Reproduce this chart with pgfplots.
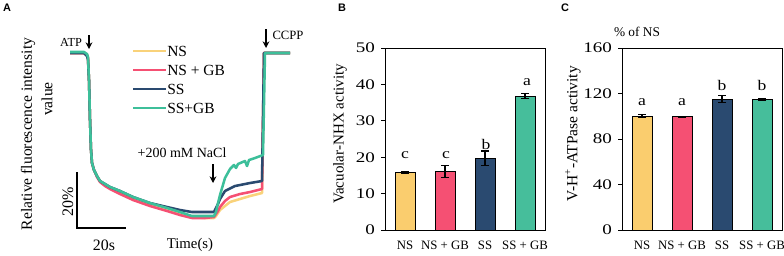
\documentclass[border=0pt]{standalone}
\usepackage{pgfplots}
\pgfplotsset{compat=1.18}
\usepackage{fontspec}
\setmainfont{Liberation Serif}
\newfontfamily\panelfont{Liberation Sans}
\usetikzlibrary{arrows.meta}
\definecolor{nsc}{HTML}{FACD6E}
\definecolor{nsgbc}{HTML}{F55073}
\definecolor{ssc}{HTML}{2A4A70}
\definecolor{ssgbc}{HTML}{46BE9B}
\definecolor{nsl}{HTML}{F9D27A}
\definecolor{ssgbl}{HTML}{3DBF9A}

\pgfplotstableread{
x y
70 53
84 53
87 55
88 58
89 80
90 120
91 150
92 163
94 170
97 176
100 181
105 185
110 188
120 193
133 199
150 205
167 210
180 214
192 217
205 218
214 218
216 216
218 213
220 210
225 206
230 202
240 199
250 196
262 193
264 53
290 53
}\tNS
\pgfplotstableread{
x y
70 53
84 53
87 55
88 58
89 80
90 120
91 150
92 163
94 170
97 177
100 182
105 186
110 189
120 194
133 200
150 206
167 211
180 215
192 218
205 218
214 217
216 214
218 211
220 207
225 201
230 197
240 194
250 192
262 189
264 53
290 53
}\tNSGB
\pgfplotstableread{
x y
70 53
84 53
87 56
88 60
89 80
90 120
91 150
92 163
94 170
97 176
100 181
105 184
110 187
120 191
133 197
150 203
167 207
180 210
192 212
205 212
214 212
216 208
218 204
220 199
225 191
235 186
250 183
262 181
264 53
290 53
}\tSS
\pgfplotstableread{
x y
70 52
84 52
87 54
88 57
89 80
90 120
91 150
92 163
94 170
97 176
100 181
105 184
110 187
120 191
133 197
150 203
167 208
180 212
192 216
205 216
214 216
216 212
218 203
220 195
225 178
230 169
234 165
236 168
238 164
245 161
247 166
249 160
255 158
263 155
265 53
290 53
}\tSSGB

\pgfplotsset{
  barax/.style={
    scale only axis,
    width=120pt, height=136.5pt,
    xmin=-0.5, xmax=3.5, ymin=0,
    xtick={0,1,2,3},
    xticklabels={NS,NS + GB,SS,SS + GB},
    x tick style={draw=none},
    tick align=outside,
    major tick length=3pt,
    ytick pos=left,
    axis line style={line width=0.75pt},
    y tick style={line width=0.75pt, black},
    /pgf/number format/assume math mode=true,
    yticklabel={\scalebox{1.3}[1]{\pgfmathprintnumber{\tick}}},
    yticklabel style={font=\fontsize{11}{12}\selectfont, xshift=-1pt},
    xticklabel style={font=\fontsize{9.6}{11}\selectfont, yshift=-2pt},
    clip=false,
  },
  mybar/.style={ybar, bar width=15pt, bar shift=0pt, draw=black, line width=0.75pt, fill=#1,
    error bars/.cd, y dir=both, y explicit,
    error bar style={line width=0.8pt, black},
    error mark options={rotate=90, mark size=3pt, line width=0.8pt, black}},
}

\begin{document}
\begin{tikzpicture}
% ---------------- Panel A
\begin{axis}[at={(0pt,0pt)}, anchor=south west, scale only axis,
  width=225pt, height=191.25pt, xmin=0, xmax=300, ymin=0, ymax=255,
  y dir=reverse, hide axis, clip=false]
\addplot[nsl, line width=1.9pt, line join=round] table {\tNS};
\addplot[nsgbc, line width=1.9pt, line join=round] table {\tNSGB};
\addplot[ssc, line width=1.9pt, line join=round] table {\tSS};
\addplot[ssgbl, line width=1.9pt, line join=round] table {\tSSGB};
\end{axis}

% ---------------- Panel B
\begin{axis}[barax, at={(288.75pt,18.75pt)}, anchor=south west,
  ymax=50, ytick={0,10,20,30,40,50}]
\addplot[mybar=nsc] coordinates {(0,15.8) +- (0,0.3)};
\addplot[mybar=nsgbc] coordinates {(1,16.0) +- (0,1.6)};
\addplot[mybar=ssc] coordinates {(2,19.7) +- (0,2.0)};
\addplot[mybar=ssgbc] coordinates {(3,36.8) +- (0,0.6)};
\end{axis}

% ---------------- Panel C
\begin{axis}[barax, at={(466.5pt,18.75pt)}, anchor=south west,
  ymax=160, ytick={0,40,80,120,160}]
\addplot[mybar=nsc] coordinates {(0,100) +- (0,1.2)};
\addplot[mybar=nsgbc] coordinates {(1,99.5) +- (0,0.6)};
\addplot[mybar=ssc] coordinates {(2,115) +- (0,3.0)};
\addplot[mybar=ssgbc] coordinates {(3,114.8) +- (0,0.6)};
\end{axis}

% ---------------- Annotations (pixel coordinates, origin top-left)
\begin{scope}[x=0.75pt, y=-0.75pt, yshift=191.25pt]
  % panel letters
  \node[font=\panelfont\bfseries\fontsize{8.2}{9}\selectfont] at (7,8) {A};
  \node[font=\panelfont\bfseries\fontsize{8.2}{9}\selectfont] at (342,8) {B};
  \node[font=\panelfont\bfseries\fontsize{8.2}{9}\selectfont] at (565,8) {C};
  % panel A texts
  \node[rotate=90, font=\fontsize{11.7}{13}\selectfont] at (28,134) {Relative fluorescence intensity};
  \node[rotate=90, font=\fontsize{11.7}{13}\selectfont] at (47,99) {value};
  \node[font=\fontsize{9.2}{11}\selectfont] at (71,42) {ATP};
  \draw[line width=1.1pt, -{Stealth[length=5pt,width=5pt]}] (89,35) -- (89,49);
  \node[font=\fontsize{9.5}{11}\selectfont] at (288,35) {CCPP};
  \draw[line width=1.1pt, -{Stealth[length=5pt,width=5pt]}] (266,29) -- (266,48);
  \node[font=\fontsize{10.5}{12}\selectfont] at (182,153) {+200 mM NaCl};
  \draw[line width=1.1pt, -{Stealth[length=5pt,width=5pt]}] (213,164) -- (213,183);
  % scale bar
  \draw[line width=0.9pt] (77,172) -- (77,228) -- (126,228);
  \node[rotate=90, font=\fontsize{12}{13}\selectfont] at (68,202) {20\%};
  \node[font=\fontsize{11.9}{13}\selectfont] at (104,245) {20s};
  \node[font=\fontsize{11.1}{13}\selectfont] at (190,245) {Time(s)};
  % legend
  \foreach \c/\yy/\t in {nsl/51/NS, nsgbc/70/NS + GB, ssc/89/SS, ssgbl/108/SS+GB}{
    \draw[\c, line width=1.9pt] (133,\yy) -- (166,\yy);
    \node[anchor=west, inner sep=0pt, font=\fontsize{11.6}{13}\selectfont] at (167,\yy) {\t};
  }
  % panel B texts
  \node[rotate=90, font=\fontsize{11.3}{13}\selectfont] at (340,134) {Vacuolar-NHX activity};
  \foreach \xx/\yy/\t in {405/155/c, 446/155/c, 486/144/b, 527/82/a}{
    \node[font=\fontsize{11}{12}\selectfont] at (\xx,\yy) {\scalebox{1.2}[1]{\t}};
  }
  % panel C texts
  \node[rotate=90, font=\fontsize{11.6}{13}\selectfont] at (573,134) {V-H\textsuperscript{+}-ATPase activity};
  \node[font=\fontsize{10}{11}\selectfont] at (637,32) {\% of NS};
  \foreach \xx/\yy/\t in {642/102/a, 682/102/a, 722/85/b, 762/85/b}{
    \node[font=\fontsize{11}{12}\selectfont] at (\xx,\yy) {\scalebox{1.2}[1]{\t}};
  }
\end{scope}
\pgfresetboundingbox
\path (0,0) rectangle (588pt,191.25pt);
\end{tikzpicture}
\end{document}
